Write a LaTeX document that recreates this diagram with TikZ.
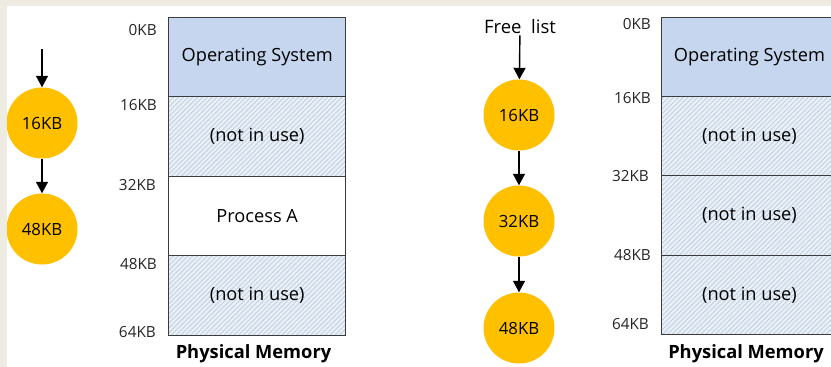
\documentclass[tikz,border=0pt]{standalone}
\usepackage{fontspec}
\setmainfont{Open Sans}
\usetikzlibrary{arrows.meta,patterns.meta}
\definecolor{frame}{HTML}{EEEBE3}
\definecolor{osblue}{HTML}{C6D6EE}
\definecolor{hatchbg}{HTML}{EAF0F7}
\definecolor{hatchln}{HTML}{C3D0E0}
\definecolor{gold}{HTML}{FFC000}
\definecolor{edge}{HTML}{3C3C3C}
\tikzset{
  seg/.style={draw=edge, line width=0.9pt, minimum width=177pt, minimum height=79.4pt,
    inner sep=0pt, font=\fontsize{18.2}{20}\selectfont},
  osseg/.style={seg, fill=osblue},
  freeseg/.style={seg, preaction={fill=hatchbg},
    preaction={pattern={Lines[angle=45,distance=3.4pt,line width=0.9pt]}, pattern color=hatchln}},
  useseg/.style={seg, fill=white},
  addr/.style={anchor=east, inner sep=0pt, font=\fontsize{15.3}{17}\selectfont, text=black!85},
  chunk/.style={circle, fill=gold, minimum size=71pt, inner sep=0pt, font=\fontsize{16.8}{18}\selectfont},
  memcaption/.style={font=\fontsize{18.3}{20}\selectfont\bfseries},
  link/.style={line width=1.4pt, -{Triangle[length=11.5pt,width=12pt]}}
}
\begin{document}
\begin{tikzpicture}[x=1pt,y=-1pt]
\useasboundingbox (0,0) rectangle (831,367);
\fill[frame] (0,0) rectangle (831,367);
\fill[white] (7,6) rectangle (831,367);
\begin{scope}
\clip (7,6) rectangle (831,367);

% ---- left: free list of two chunks ----
\coordinate (lhead) at (42,49);
\node[chunk] (l16) at (42,123) {16KB};
\node[chunk] (l48) at (42,229) {48KB};
\draw[link] (lhead) -- (l16);
\draw[link] (l16) -- (l48);

% ---- left: memory map ----
\node[osseg]   (la) at (257.2,57)    {Operating System};
\node[freeseg] (lb) at (257.2,136.6) {(not in use)};
\node[useseg]  (lc) at (257.2,216)   {Process A};
\node[freeseg] (ld) at (257.2,295.5) {(not in use)};
\node[addr] at (157,30)  {0KB};
\node[addr] at (157,105) {16KB};
\node[addr] at (156,185) {32KB};
\node[addr] at (157,264) {48KB};
\node[addr] at (156,332) {64KB};
\node[memcaption] (lcap) at (253.5,354) {Physical Memory};

% ---- right: free list of three chunks ----
\node[font=\fontsize{18.5}{20}\selectfont, inner sep=1pt] (fl) at (520,27) {Free\ \ list};
\node[chunk] (r16) at (519,115) {16KB};
\node[chunk] (r32) at (519,221) {32KB};
\node[chunk] (r48) at (519,328) {48KB};
\draw[link] (fl) -- (r16);
\draw[link] (r16) -- (r32);
\draw[link] (r32) -- (r48);

% ---- right: memory map ----
\node[osseg]   (ra) at (749.5,57)    {Operating System};
\node[freeseg] (rb) at (749.5,136.2) {(not in use)};
\node[freeseg] (rc) at (749.5,215.4) {(not in use)};
\node[freeseg] (rd) at (749.5,295)   {(not in use)};
\node[addr] at (651,24)  {0KB};
\node[addr] at (651,98)  {16KB};
\node[addr] at (649,176) {32KB};
\node[addr] at (651,255) {48KB};
\node[addr] at (649,324) {64KB};
\node[memcaption] (rcap) at (746,354) {Physical Memory};
\end{scope}
\end{tikzpicture}
\end{document}
